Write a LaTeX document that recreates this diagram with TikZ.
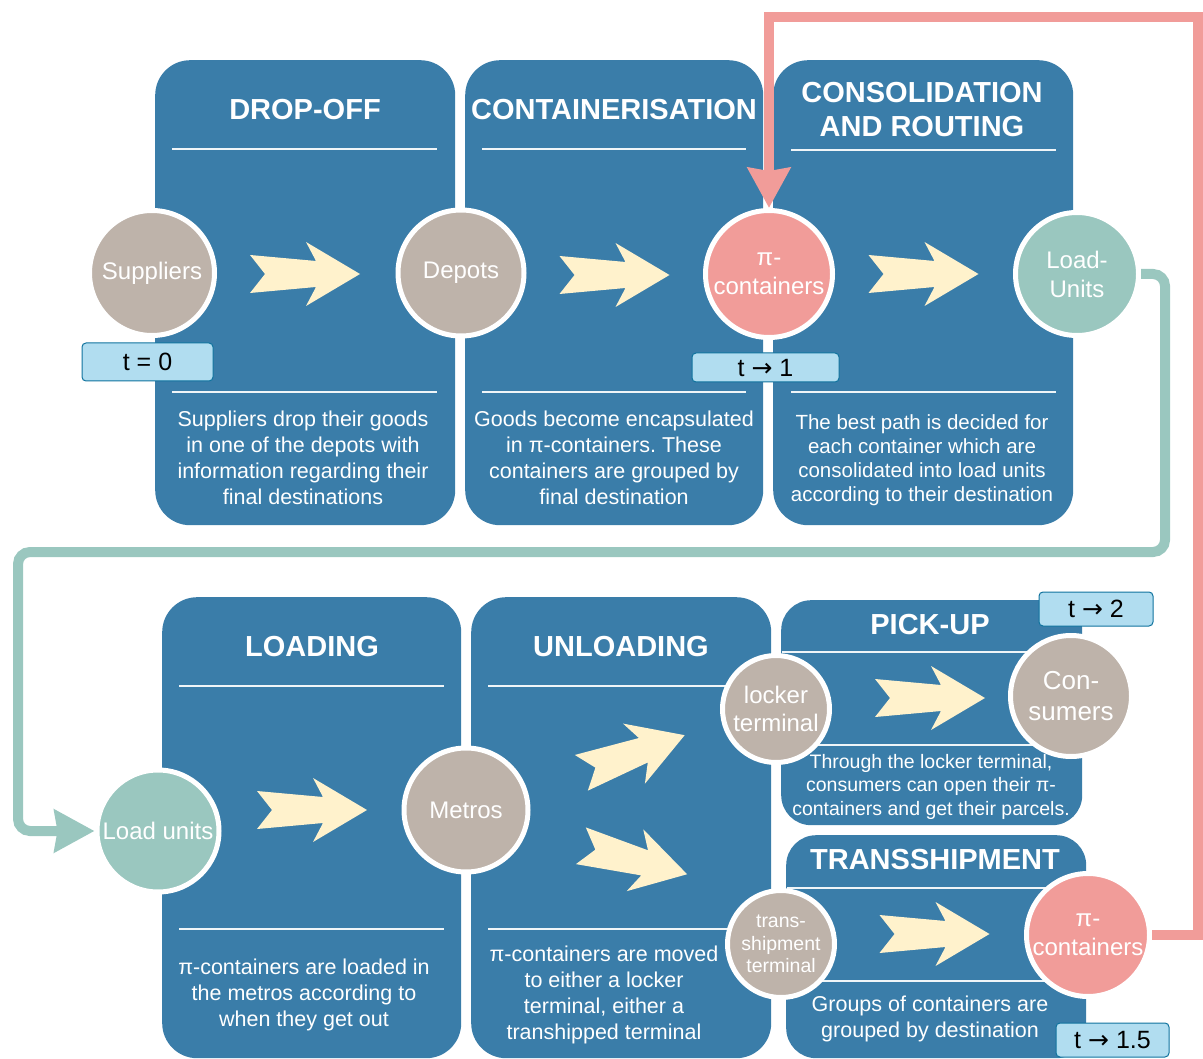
\documentclass[tikz,border=0pt]{standalone}
\usepackage{fontspec}
\setmainfont{Liberation Sans}
\newfontfamily\arrowfont{DejaVu Sans}
\frenchspacing
\usetikzlibrary{arrows.meta}
\definecolor{panelblue}{HTML}{3A7DA9}
\definecolor{ctan}{HTML}{BEB3AA}
\definecolor{csalmon}{HTML}{F19C99}
\definecolor{cteal}{HTML}{9AC7BF}
\definecolor{ccream}{HTML}{FFF2CC}
\definecolor{badgefill}{HTML}{B1DDF0}
\definecolor{badgeedge}{HTML}{10739E}
\newcommand{\tarrow}{{\arrowfont →}}
\begin{document}
\begin{tikzpicture}[x=1pt,y=-1pt,
  panel/.style={fill=panelblue, draw=none, rounded corners=35pt, anchor=north west, inner sep=0pt},
  ttl/.style={text=white, font=\fontsize{29}{34}\selectfont\bfseries, align=center, inner sep=0pt},
  desc/.style={text=white, font=\fontsize{21.5}{26}\selectfont, align=center, inner sep=0pt},
  sepline/.style={draw=white!92!panelblue, line width=1.8pt},
  circ/.style={circle, draw=white, line width=5pt, text=white, font=\fontsize{24}{29}\selectfont, align=center, inner sep=0pt},
  badge/.style={draw=badgeedge, fill=badgefill, rounded corners=4pt, line width=1pt, font=\fontsize{25}{30}\selectfont, inner sep=0pt, text=black},
  redline/.style={draw=csalmon, line width=10pt, -{Stealth[length=40pt,width=42pt,inset=3pt]}},
  tealline/.style={draw=cteal, line width=10pt, rounded corners=12pt, -{Stealth[length=40pt,width=42pt,inset=3pt]}},
  chev/.pic={\fill[ccream] (-55,-19) -- (11,-13) -- (1,-32) -- (55,0) -- (1,32) -- (11,13) -- (-55,19) -- (-40,0) -- cycle;}
]
\useasboundingbox (0,0) rectangle (1203,1059);

% ---------- panels ----------
\node[panel, minimum width=300pt, minimum height=465pt] (pdrop) at (155,60) {};
\node[panel, minimum width=298pt, minimum height=465pt] (pcont) at (465,60) {};
\node[panel, minimum width=300pt, minimum height=465pt] (pcons) at (773,60) {};
\node[panel, minimum width=299pt, minimum height=461pt] (pload) at (162,597) {};
\node[panel, minimum width=300pt, minimum height=461pt] (punl) at (471,597) {};
\node[panel, minimum width=301pt, minimum height=225pt, rounded corners=30pt] (ppick) at (781,600) {};
\node[panel, minimum width=300pt, minimum height=223pt, rounded corners=30pt] (ptrans) at (786,835) {};

% ---------- titles ----------
\node[ttl] (tdrop) at (305,110) {DROP-OFF};
\node[ttl] (tcont) at (614,110) {CONTAINERISATION};
\node[ttl] (tcons) at (922,110) {CONSOLIDATION\\AND ROUTING};
\node[ttl] (tload) at (312,647) {LOADING};
\node[ttl] (tunl) at (621,647) {UNLOADING};
\node[ttl] (tpick) at (930,625) {PICK-UP};
\node[ttl] (ttrans) at (935,860) {TRANSSHIPMENT};

% ---------- separator lines ----------
\draw[sepline] (172,149) -- (437,149);
\draw[sepline] (482,149) -- (746,149);
\draw[sepline] (791,150) -- (1056,150);
\draw[sepline] (172,392) -- (437,392);
\draw[sepline] (482,392) -- (746,392);
\draw[sepline] (791,392) -- (1056,392);
\draw[sepline] (179,686) -- (444,686);
\draw[sepline] (488,686) -- (754,686);
\draw[sepline] (179,929) -- (444,929);
\draw[sepline] (488,929) -- (754,929);
\draw[sepline] (782,652) -- (1080,652);
\draw[sepline] (782,745) -- (1080,745);
\draw[sepline] (787,888) -- (1084,888);
\draw[sepline] (787,981) -- (1084,981);

% ---------- descriptions ----------
\node[desc] (ddrop) at (303,458) {Suppliers drop their goods\\in one of the depots with\\information regarding their\\final destinations};
\node[desc] (dcont) at (614,458) {Goods become encapsulated\\in π-containers. These\\containers are grouped by\\final destination};
\node[desc, font=\fontsize{20.5}{24}\selectfont] (dcons) at (922,460) {The best path is decided for\\each container which are\\consolidated into load units\\according to their destination};
\node[desc] (dload) at (304,994.5) {π-containers are loaded in\\the metros according to\\when they get out};
\node[desc] (dunl) at (604,994.5) {π-containers are moved\\to either a locker\\terminal, either a\\transhipped terminal};
\node[desc, font=\fontsize{19.5}{23.5}\selectfont] (dpick) at (931,786.5) {Through the locker terminal,\\consumers can open their π-\\containers and get their parcels.};
\node[desc] (dtrans) at (930,1019) {Groups of containers are\\grouped by destination};

% ---------- chevron arrows ----------
\pic at (305,274) {chev};
\pic at (614.5,275) {chev};
\pic at (923.5,274) {chev};
\pic at (312,810) {chev};
\pic[rotate=20] at (633,754) {chev};
\pic[rotate=-15] at (634,860) {chev};
\pic at (930,698) {chev};
\pic at (934.5,934) {chev};

% ---------- circles ----------
\node[circ, fill=ctan, minimum size=125pt] (sup) at (152,273) {Suppliers};
\node[circ, fill=ctan, minimum size=126pt] (dep) at (461,273) {Depots};
\node[circ, fill=csalmon, minimum size=127pt] (pc1) at (769,274) {π-\\containers};
\node[circ, fill=cteal, minimum size=123pt] (lu) at (1077,274) {Load-\\Units};
\node[circ, fill=cteal, minimum size=122pt] (lu2) at (158,831) {Load units};
\node[circ, fill=ctan, minimum size=124pt] (met) at (466,810) {Metros};
\node[circ, fill=ctan, minimum size=107pt, font=\fontsize{24}{28}\selectfont] (lock) at (776,709) {locker\\terminal};
\node[circ, fill=ctan, minimum size=121pt, font=\fontsize{26}{31}\selectfont] (cons) at (1071,696) {Con-\\sumers};
\node[circ, fill=ctan, minimum size=107pt, font=\fontsize{19.5}{22.5}\selectfont] (tship) at (781,944) {trans-\\shipment\\terminal};
\node[circ, fill=csalmon, minimum size=123pt] (pc2) at (1088,935) {π-\\containers};

% ---------- time badges ----------
\node[badge, minimum width=131pt, minimum height=38pt] (b0) at (147.5,362) {t = 0};
\node[badge, minimum width=147pt, minimum height=29pt] (b1) at (765.5,367.5) {t \tarrow{} 1};
\node[badge, minimum width=114pt, minimum height=34pt] (b2) at (1096,609) {t \tarrow{} 2};
\node[badge, minimum width=113pt, minimum height=34pt] (b15) at (1112.5,1040) {t \tarrow{} 1.5};

% ---------- connectors ----------
\coordinate (rtop) at (1198,17);
\draw[redline] (pc2.east) -| (rtop) -| (pc1.north);
\coordinate (ta) at (1165,552);
\coordinate (tb) at (18,552);
\draw[tealline] (lu.east) -| (ta) -- (tb) |- (lu2.west);
\end{tikzpicture}
\end{document}
